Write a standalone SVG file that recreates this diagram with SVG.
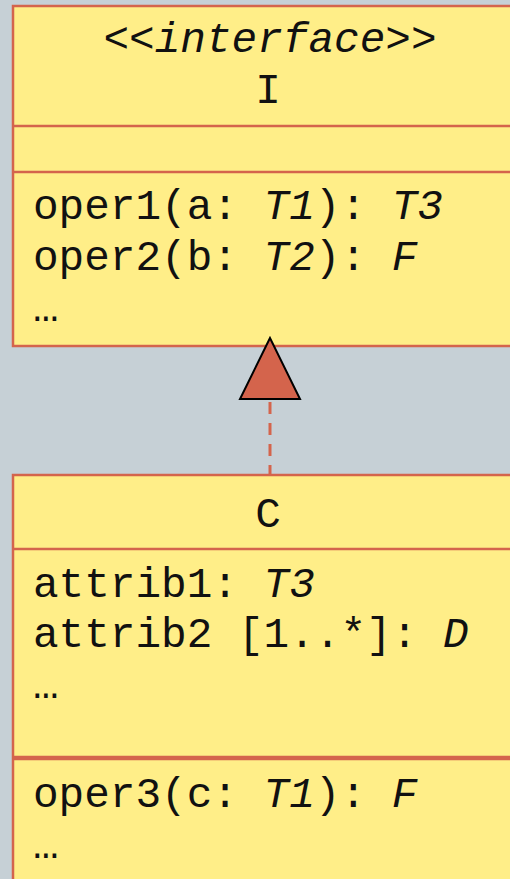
<svg xmlns="http://www.w3.org/2000/svg" width="510" height="879" viewBox="0 0 510 879">
<style>
.box{fill:#ffee88;stroke:#d4644c;stroke-width:2.5}
.div{stroke:#d4644c;stroke-width:2.5}
.t{font-family:"Liberation Mono","Courier New",monospace;font-size:42.7px;fill:#111}
.i{font-style:italic}
.c{text-anchor:middle}
</style>
<rect width="510" height="879" fill="#c6d0d6"/>
<g id="I">
<rect class="box" x="13" y="6" width="510" height="340"/>
<line class="div" x1="13" y1="126" x2="520" y2="126"/>
<line class="div" x1="13" y1="172" x2="520" y2="172"/>
<text class="t i c" x="270" y="52">&lt;&lt;interface&gt;&gt;</text>
<text class="t c" x="268" y="103">I</text>
<text class="t" x="33" y="219">oper1(a: <tspan class="i">T1</tspan>): <tspan class="i">T3</tspan></text>
<text class="t" x="33" y="270">oper2(b: <tspan class="i">T2</tspan>): <tspan class="i">F</tspan></text>
<text class="t" x="33" y="321">…</text>
</g>
<g id="C">
<rect class="box" x="13" y="475" width="510" height="420"/>
<line class="div" x1="13" y1="549" x2="520" y2="549"/>
<line class="div" x1="13" y1="758" x2="520" y2="758" style="stroke-width:4.5"/>
<text class="t c" x="268" y="527">C</text>
<text class="t" x="33" y="597">attrib1: <tspan class="i">T3</tspan></text>
<text class="t" x="33" y="647">attrib2 [1..*]: <tspan class="i">D</tspan></text>
<text class="t" x="33" y="698">…</text>
<text class="t" x="33" y="807">oper3(c: <tspan class="i">T1</tspan>): <tspan class="i">F</tspan></text>
<text class="t" x="33" y="858">…</text>
</g>
<g id="connectors">
<line x1="270" y1="399" x2="270" y2="474" stroke="#d4644c" stroke-width="3" stroke-dasharray="12,9" stroke-dashoffset="-3"/>
<polygon points="270,338 240,399 300,399" fill="#d4644c" stroke="#000" stroke-width="2"/>
</g>
</svg>
